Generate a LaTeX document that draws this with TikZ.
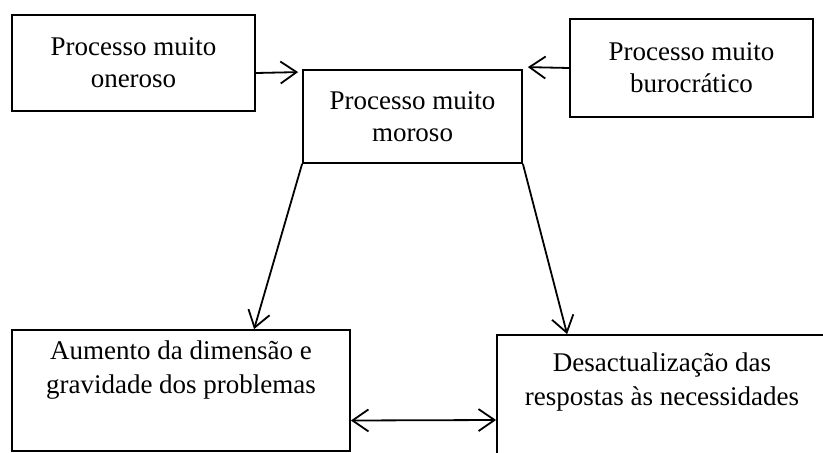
\documentclass[tikz,border=0pt]{standalone}
\usepackage{fontspec}
\setmainfont{Liberation Serif}
\usetikzlibrary{positioning,arrows.meta}
\tikzstyle{block} = [draw, rectangle, line width=1.8pt, inner sep=0pt,
    align=center, font=\fontsize{27}{32}\selectfont]
\tikzstyle{boxtext} = [align=center, inner sep=0pt,
    font=\fontsize{27}{34}\selectfont]
\tikzstyle{arrow} = [line width=1.8pt, ->]
\tikzstyle{twoway} = [line width=1.8pt, <->]

\begin{document}
\begin{tikzpicture}[x=1pt, y=-1pt, >={Straight Barb[length=16pt,width=22pt]}]
     \clip (0,0) rectangle (823,453);
     \node [block, minimum width=243pt, minimum height=96pt] (oneroso) at (133.5,63) {Processo muito\\oneroso};
     \node [block, minimum width=243pt, minimum height=98pt] (burocratico) at (691.5,68) {Processo muito\\burocrático};
     \node [block, minimum width=219pt, minimum height=93pt] (moroso) at (412.5,116.5) {Processo muito\\moroso};
     \draw [arrow] ([yshift=-10pt]oneroso.east) -- ([xshift=-4pt,yshift=-3pt]moroso.north west);
     \draw [arrow] (burocratico.west) -- ([xshift=5pt,yshift=2pt]moroso.north east);

     \node [block, minimum width=338pt, minimum height=121pt] (aumento) at (181,390.5) {};
     \node [boxtext] (aumentotext) at (181,370) {Aumento da dimensão e\\gravidade dos problemas};
     \node [block, minimum width=343pt, minimum height=135pt] (desactualizacao) at (668.5,402.5) {};
     \node [boxtext] (desactualizacaotext) at (662,382) {Desactualização das\\respostas às necessidades};

     \draw [arrow] (moroso.south west) -- ([xshift=243pt]aumento.north west);
     \draw [arrow] (moroso.south east) -- ([xshift=71pt]desactualizacao.north west);
     \draw [twoway] ([yshift=-30pt]aumento.east) -- ([yshift=-17.5pt]desactualizacao.west);
\end{tikzpicture}
\end{document}
